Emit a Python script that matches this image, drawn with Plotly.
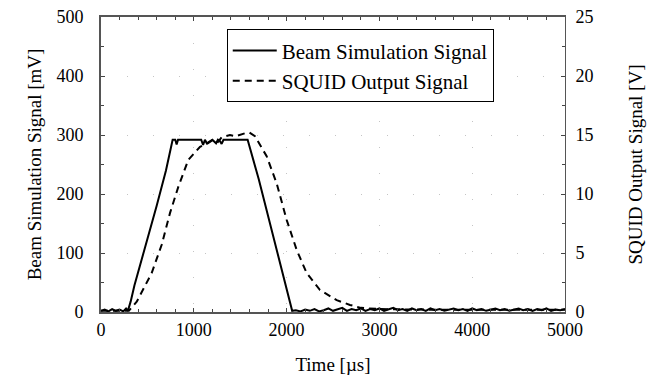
import plotly.graph_objects as go

# Beam simulation signal [mV]
beam_t = [0, 40, 80, 120, 160, 200, 240, 270, 290, 320, 360, 420, 500, 600, 700, 772,
          800, 815, 830, 900, 1000, 1080, 1100, 1120, 1140, 1200, 1240, 1260, 1280, 1300,
          1320, 1400, 1500, 1580, 1700, 1800, 1900, 2000, 2060,
          2100, 2150, 2200, 2250, 2300, 2350, 2400, 2450, 2500, 2550, 2600, 2650, 2700,
          2750, 2800, 2850, 2900, 2950, 3000, 3050, 3100, 3150, 3200, 3250, 3300, 3350,
          3400, 3450, 3500, 3550, 3600, 3650, 3700, 3750, 3800, 3850, 3900, 3950, 4000,
          4050, 4100, 4150, 4200, 4250, 4300, 4350, 4400, 4450, 4500, 4550, 4600, 4650,
          4700, 4750, 4800, 4850, 4900, 4950, 5000]
beam_v = [2, 4, 1, 5, 2, 4, 1, 6, 2, 18, 45, 78, 125, 180, 240, 292,
          292, 284, 292, 292, 292, 292, 283, 292, 286, 292, 286, 292, 290, 285,
          292, 292, 292, 292, 225, 163, 105, 42, 2,
          3, 1, 4, 2, 5, 1, 3, 6, 2, 4, 7, 2, 5,
          3, 6, 2, 5, 3, 6, 2, 4, 7, 3, 5, 2, 6,
          3, 5, 2, 6, 3, 5, 2, 4, 6, 3, 5, 2, 6,
          3, 5, 2, 4, 6, 3, 5, 2, 4, 6, 3, 5, 2,
          5, 3, 6, 2, 4, 3, 5]

# SQUID output signal [V]
squid_t = [0, 300, 385, 546, 654, 744, 833, 941, 1067, 1150, 1210, 1260, 1300, 1390,
           1450, 1552, 1600, 1659, 1785, 1893, 2001, 2109, 2216, 2360, 2540, 2683,
           2800, 3000, 3500, 4000, 4500, 5000]
squid_v = [0.1, 0.1, 0.87, 3.3, 5.7, 8.4, 10.6, 12.9, 14.0, 14.3, 14.6, 14.4, 14.8, 15.0,
           14.9, 15.15, 15.2, 14.9, 13.2, 10.9, 7.8, 5.25, 3.3, 1.86, 1.0, 0.6,
           0.35, 0.25, 0.2, 0.2, 0.2, 0.2]

x_ticks = [0, 1000, 2000, 3000, 4000, 5000]
y_ticks = [0, 100, 200, 300, 400, 500]
y2_ticks = [0, 5, 10, 15, 20, 25]

FAM = "Liberation Serif"
font = dict(family=FAM, size=19, color="black")
tfont = dict(family=FAM, size=18, color="black")

fig = go.Figure()
fig.add_trace(go.Scatter(x=beam_t, y=beam_v, mode="lines", name="Beam Simulation Signal",
                         line=dict(color="black", width=2)))
fig.add_trace(go.Scatter(x=squid_t, y=squid_v, mode="lines", name="SQUID Output Signal",
                         yaxis="y2", line=dict(color="black", width=2, dash="7px,5px")))

grid = dict(showgrid=True, gridcolor="#c4c4c4", gridwidth=1, griddash="1px,25px")

fig.update_layout(
    width=653, height=384,
    margin=dict(l=101, r=88, t=17, b=72),
    paper_bgcolor="white", plot_bgcolor="white",
    font=font,
    showlegend=True,
    legend=dict(x=0.271, y=0.958, xanchor="left", yanchor="top",
                bordercolor="black", borderwidth=1, bgcolor="white",
                font=dict(family=FAM, size=21, color="black"),
                tracegroupgap=0, itemwidth=44),
    xaxis=dict(range=[0, 5000], tickvals=x_ticks, ticks="inside", ticklen=4,
               showline=True, linecolor="#555", linewidth=2, mirror="ticks",
               zeroline=False, automargin=False, ticklabelstandoff=0,
               minor=dict(dtick=200, ticks="inside", ticklen=3, showgrid=False),
               title=dict(text="Time [µs]", standoff=19, font=font),
               tickfont=tfont, **grid),
    yaxis=dict(range=[0, 500], tickvals=y_ticks, ticks="inside", ticklen=4,
               showline=True, linecolor="#555", linewidth=2, zeroline=False,
               automargin=False, ticklabelstandoff=12,
               minor=dict(dtick=50, ticks="inside", ticklen=3, showgrid=False),
               title=dict(text="Beam Simulation Signal [mV]", standoff=10, font=font),
               tickfont=tfont, **grid),
    yaxis2=dict(range=[0, 25], tickvals=y2_ticks, ticks="inside", ticklen=4,
                overlaying="y", side="right", showline=True, linecolor="#555",
                linewidth=1, zeroline=False, showgrid=False, automargin=False,
                ticklabelstandoff=6,
                minor=dict(dtick=2.5, ticks="inside", ticklen=3),
                title=dict(text="SQUID Output Signal [V]", standoff=36, font=font),
                tickfont=tfont),
)

fig.write_html("out.html", config={"displayModeBar": False},
               post_script="document.body.style.margin='0';")
